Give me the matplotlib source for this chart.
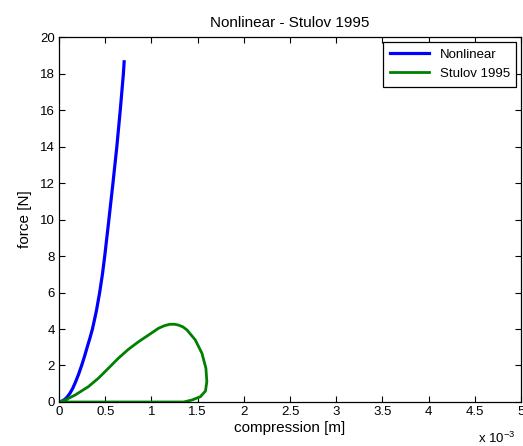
import matplotlib
matplotlib.use('Agg')
import matplotlib.pyplot as plt
from matplotlib.ticker import FuncFormatter

plt.rcParams['font.family'] = ['Liberation Sans', 'DejaVu Sans']

# compression [m], force [N]
nonlin_x = [0.0, 0.000030, 0.000065, 0.000090, 0.000119, 0.000150, 0.000180, 0.000212,
            0.000245, 0.000275, 0.000305, 0.000334, 0.000362, 0.000405, 0.000440,
            0.000470, 0.000495, 0.000540, 0.000584, 0.000626, 0.000663, 0.000697,
            0.000705]
nonlin_f = [0.0, 0.04, 0.15, 0.28, 0.48, 0.76, 1.11, 1.52,
            2.0, 2.48, 3.0, 3.49, 4.0, 5.0, 6.0,
            7.0, 8.0, 10.0, 12.0, 14.0, 16.0, 18.0,
            18.65]

stulov_x = [0.0, 0.000065, 0.000174, 0.000318, 0.000426, 0.000535, 0.000643, 0.000752,
            0.000860, 0.000969, 0.001077, 0.00114, 0.00120, 0.00125, 0.00129, 0.00134,
            0.001385, 0.001475, 0.001547, 0.00159, 0.00160, 0.001585, 0.00153,
            0.00144, 0.00135, 0.0010, 0.0005, 0.0]
stulov_f = [0.0, 0.10, 0.38, 0.84, 1.30, 1.85, 2.40, 2.89,
            3.30, 3.67, 4.04, 4.18, 4.26, 4.26, 4.22, 4.12,
            3.95, 3.40, 2.67, 1.85, 1.11, 0.60, 0.29,
            0.11, 0.0, 0.0, 0.0, 0.0]

fig = plt.figure(figsize=(5.23, 4.46), dpi=100)
ax = fig.add_axes([0.1128, 0.0987, 0.8834, 0.818])

ax.plot(nonlin_x, nonlin_f, '-', color=(0, 0, 1), lw=2.3, label='Nonlinear')
ax.plot(stulov_x, stulov_f, '-', color=(0, 0.5, 0), lw=2.0, label='Stulov 1995')

ax.set_xlim(0, 0.005)
ax.set_ylim(0, 20)
ax.set_xticks([i * 0.0005 for i in range(11)])
ax.set_yticks(range(0, 21, 2))
ax.xaxis.set_major_formatter(FuncFormatter(lambda v, p: '%g' % round(v * 1e3, 3)))
ax.tick_params(direction='in', top=True, right=True, length=4, width=0.8,
               labelsize=9.5, pad=3)
for s in ax.spines.values():
    s.set_linewidth(0.9)

ax.set_title('Nonlinear - Stulov 1995', fontsize=11, pad=7)
ax.set_xlabel('compression [m]', fontsize=11, labelpad=2)
ax.set_ylabel('force [N]', fontsize=11, labelpad=6)
fig.text(478 / 523, 1 - 438 / 446, r'x 10$^{\mathregular{-3}}$', fontsize=9.5,
         ha='left', va='center')

leg = ax.legend(loc='upper right', fontsize=9.5, fancybox=False, framealpha=1,
                edgecolor='black', borderaxespad=0.35, handlelength=3.0,
                borderpad=0.5, labelspacing=0.55)
leg.get_frame().set_linewidth(0.9)

fig.savefig('out.png', dpi=100)
